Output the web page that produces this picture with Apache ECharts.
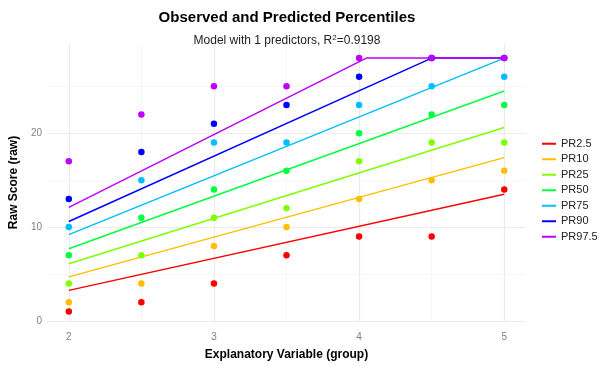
<!DOCTYPE html>
<html><head><meta charset="utf-8">
<script src="https://cdn.jsdelivr.net/npm/echarts@6/dist/echarts.min.js"></script>
<style>html,body{margin:0;padding:0;background:#fff}#c{width:600px;height:366px}</style>
</head><body><div id="c"></div>
<script>
const names = ['PR2.5','PR10','PR25','PR50','PR75','PR90','PR97.5'];
const colors = ['#FF0000','#FFBF00','#80FF00','#00FF40','#00BFFF','#0000FF','#BF00FF'];
const xObs = [2,2.5,3,3.5,4,4.5,5];
const obsPR2_5 = [1,2,4,7,9,9,14];
const obsPR10 = [2,4,8,10,13,15,16];
const obsPR25 = [4,7,11,12,17,19,19];
const obsPR50 = [7,11,14,16,20,22,23];
const obsPR75 = [10,15,19,19,23,25,26];
const obsPR90 = [13,18,21,23,26,28,28];
const obsPR97_5 = [17,22,25,25,28,28,28];
const predPR2_5 = [[2,3.26],[5,13.5]];
const predPR10 = [[2,4.7],[5,17.4]];
const predPR25 = [[2,6.1],[5,20.6]];
const predPR50 = [[2,7.7],[5,24.5]];
const predPR75 = [[2,9.2],[5,28]];
const predPR90 = [[2,10.6],[4.5,28],[5,28]];
const predPR97_5 = [[2,12.1],[4.05,28],[5,28]];
const xTicks = [2,3,4,5];
const yTicks = [0,10,20];
const xMinor = [2.5,3.5,4.5];
const yMinor = [5,15,25];

const obs = [obsPR2_5,obsPR10,obsPR25,obsPR50,obsPR75,obsPR90,obsPR97_5];
const pred = [predPR2_5,predPR10,predPR25,predPR50,predPR75,predPR90,predPR97_5];

const gridLines = [];
xTicks.forEach(v=>gridLines.push({xAxis:v,lineStyle:{color:'#ebebeb',width:1.2,type:'solid'}}));
xMinor.forEach(v=>gridLines.push({xAxis:v,lineStyle:{color:'#f4f4f4',width:0.8,type:'solid'}}));
yTicks.forEach(v=>gridLines.push({yAxis:v,lineStyle:{color:'#ebebeb',width:1.2,type:'solid'}}));
yMinor.forEach(v=>gridLines.push({yAxis:v,lineStyle:{color:'#f4f4f4',width:0.8,type:'solid'}}));

const series = [{
  type:'line', data:[], silent:true, z:0, zlevel:0,
  markLine:{silent:true, symbol:['none','none'], label:{show:false}, animation:false, data:gridLines}
}];
names.forEach((n,i)=>{
  series.push({name:n,type:'line',data:pred[i],showSymbol:false,symbol:'none',zlevel:1,
    lineStyle:{color:colors[i],width:1.5},itemStyle:{color:colors[i]},z:2,animation:false});
});
names.forEach((n,i)=>{
  series.push({name:n,type:'scatter',data:xObs.map((x,j)=>[x,obs[i][j]]),symbolSize:6.5,zlevel:1,
    itemStyle:{color:colors[i],opacity:1,borderWidth:0},z:3,animation:false});
});

const chart = echarts.init(document.getElementById('c'),null,{renderer:'canvas'});
chart.setOption({
  backgroundColor:'#fff',
  animation:false,
  textStyle:{fontFamily:'Liberation Sans, Arial, sans-serif'},
  title:[{
    text:'Observed and Predicted Percentiles', left:282, top:5, textAlign:'center',
    textStyle:{fontSize:15,fontWeight:'bold',color:'#000',fontFamily:'Liberation Sans'}
  },{
    text:'Model with 1 predictors, R{sup|2}=0.9198', left:282, top:29, textAlign:'center',
    textStyle:{fontSize:12,fontWeight:'normal',color:'#222',fontFamily:'Liberation Sans',
      rich:{sup:{fontSize:8,verticalAlign:'top',padding:[0,0,6,0],color:'#222',fontFamily:'Liberation Sans'}}}
  }],
  legend:{
    orient:'vertical', left:537, top:133, itemWidth:14, itemHeight:2, itemGap:4, icon:'rect',
    data:names, textStyle:{fontSize:11,color:'#222',fontFamily:'Liberation Sans',lineHeight:11.5},
    selectedMode:false
  },
  grid:{left:38,right:74,top:44,bottom:42,containLabel:false},
  xAxis:{type:'value',min:1.85,max:5.15,splitLine:{show:false},axisLine:{show:false},axisTick:{show:false},
    axisLabel:{customValues:xTicks,color:'#7f7f7f',fontSize:10,margin:11},
    name:'Explanatory Variable (group)',nameLocation:'middle',nameGap:28,
    nameTextStyle:{fontSize:12,fontWeight:'bold',color:'#000'}},
  yAxis:{type:'value',min:0,max:29.5,splitLine:{show:false},axisLine:{show:false},axisTick:{show:false},
    axisLabel:{customValues:yTicks,color:'#7f7f7f',fontSize:10,margin:5},
    name:'Raw Score (raw)',nameLocation:'middle',nameGap:22,
    nameTextStyle:{fontSize:12,fontWeight:'bold',color:'#000'}},
  series:series
});
</script></body></html>
